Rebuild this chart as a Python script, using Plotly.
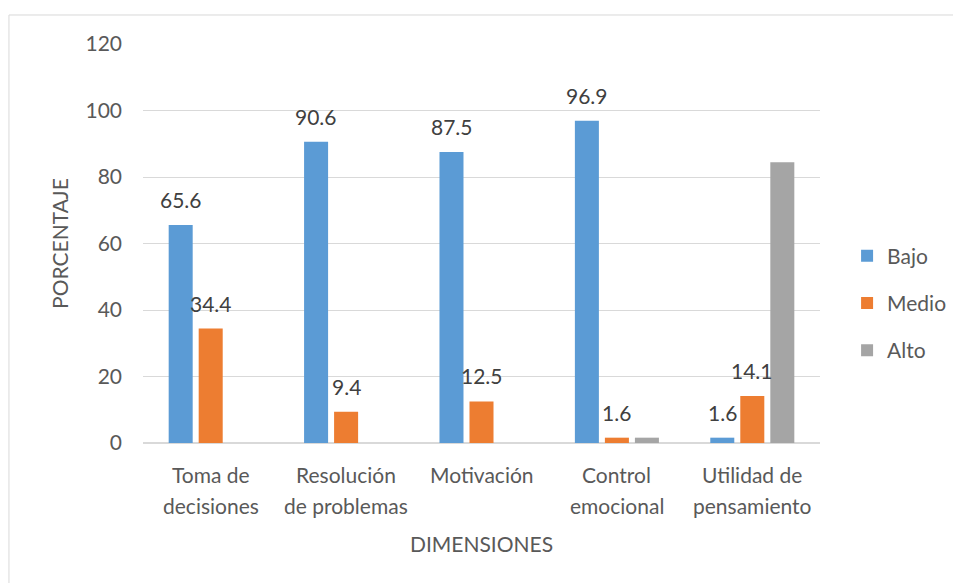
import plotly.graph_objects as go

categories = ["Toma de decisiones", "Resolución de problemas", "Motivación",
              "Control emocional", "Utilidad de pensamiento"]
cat_line1 = ["Toma de", "Resolución", "Motivación", "Control", "Utilidad de"]
cat_line2 = ["decisiones", "de problemas", "", "emocional", "pensamiento"]

bajo = [65.6, 90.6, 87.5, 96.9, 1.6]
medio = [34.4, 9.4, 12.5, 1.6, 14.1]
alto = [None, None, None, 1.6, 84.4]

y_ticks = [0, 20, 40, 60, 80, 100, 120]

FONT = "Lato"
FS = 21
TXT = "#595959"
GRID = "#d9d9d9"
colors = {"Bajo": "#5B9BD5", "Medio": "#ED7D31", "Alto": "#A5A5A5"}

fig = go.Figure()
for name, vals in [("Bajo", bajo), ("Medio", medio), ("Alto", alto)]:
    fig.add_trace(go.Bar(name=name, x=categories, y=vals,
                         marker=dict(color=colors[name], line=dict(width=0)),
                         legendgroup=name))

annotations = []
# data labels for Bajo and Medio
slot = 30  # px offset between bars in a group
for vals, shift in [(bajo, -slot), (medio, 0)]:
    for c, v in zip(categories, vals):
        annotations.append(dict(x=c, y=v, xref="x", yref="y", text=f"{v:.1f}",
                                showarrow=False, yanchor="bottom", xshift=shift,
                                yshift=11, font=dict(family=FONT, size=FS, color="#404040")))
# category labels (two lines, Excel-like spacing)
for c, l1, l2 in zip(categories, cat_line1, cat_line2):
    annotations.append(dict(x=c, y=0, xref="x", yref="y", text=l1, showarrow=False,
                            yanchor="top", yshift=-17,
                            font=dict(family=FONT, size=FS, color=TXT)))
    if l2:
        annotations.append(dict(x=c, y=0, xref="x", yref="y", text=l2, showarrow=False,
                                yanchor="top", yshift=-48,
                                font=dict(family=FONT, size=FS, color=TXT)))

fig.update_layout(
    width=953, height=583,
    margin=dict(l=143, r=133, t=44, b=140, autoexpand=False),
    paper_bgcolor="white", plot_bgcolor="white",
    barmode="group", bargap=0.335, bargroupgap=0.2,
    font=dict(family=FONT, size=FS, color=TXT),
    showlegend=True,
    legend=dict(x=1.04, y=0.52, xanchor="left", yanchor="top",
                font=dict(family=FONT, size=FS, color=TXT),
                tracegroupgap=17, itemwidth=30, bgcolor="rgba(0,0,0,0)"),
    annotations=annotations,
    shapes=[dict(type="rect", xref="paper", yref="paper",
                 x0=-0.198, x1=1.3, y0=-0.5, y1=1.0727,
                 line=dict(color=GRID, width=1), fillcolor="rgba(0,0,0,0)", layer="below")],
)
fig.update_xaxes(showticklabels=False, showgrid=False, zeroline=False, showline=False,
                 ticks="",
                 title=dict(text="DIMENSIONES", standoff=94,
                            font=dict(family=FONT, size=FS, color=TXT)))
fig.update_yaxes(range=[0, 120], tickvals=y_ticks, showgrid=True, gridcolor=GRID,
                 gridwidth=1, zeroline=True, zerolinecolor=GRID, zerolinewidth=1.5,
                 showline=False, ticks="", ticklabelstandoff=20,
                 tickfont=dict(family=FONT, size=FS, color=TXT),
                 title=dict(text="PORCENTAJE", standoff=11,
                            font=dict(family=FONT, size=FS, color=TXT)))

fig.write_html("out.html", config={"displayModeBar": False},
               post_script="document.body.style.margin='0';")
